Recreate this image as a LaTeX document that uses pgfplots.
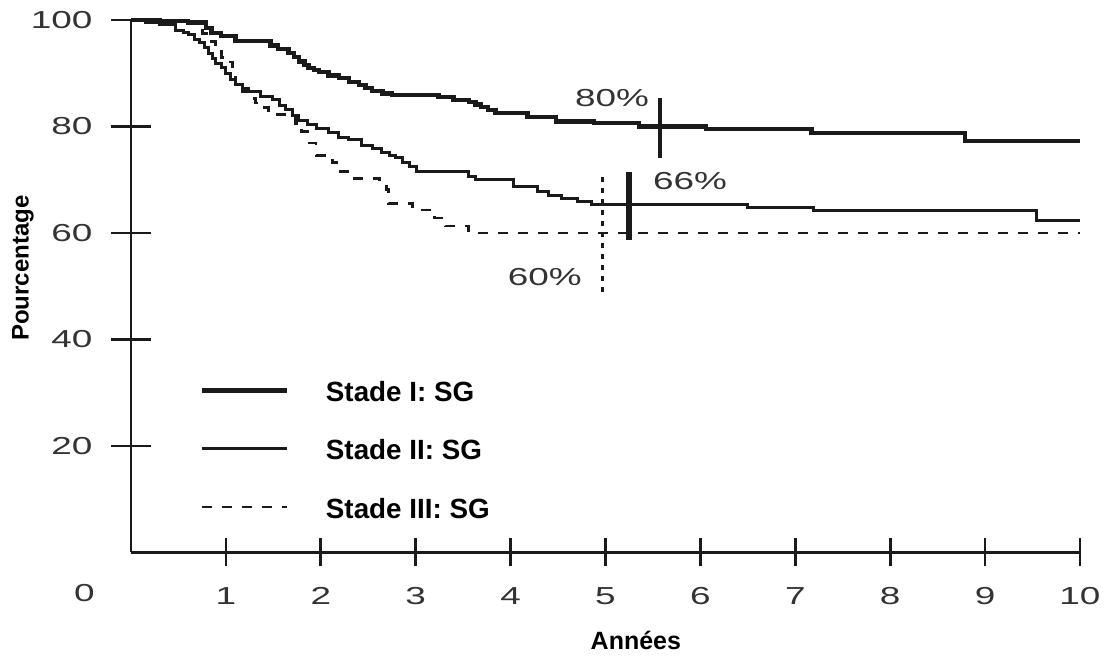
\documentclass[border=0pt]{standalone}
\usepackage{fontspec}
\setmainfont{Liberation Sans}
\usepackage{graphicx}
\usepackage{pgfplots}
\pgfplotsset{compat=1.18}
\definecolor{ink}{HTML}{1A1A1A}
\definecolor{gtext}{HTML}{333333}
\newcommand\gr[1]{\scalebox{1.5}[1]{#1}}
\begin{document}
\begin{tikzpicture}
\path[use as bounding box] (-65.5pt,-52.25pt) rectangle (489.5pt,276.25pt);
\begin{axis}[
  at={(0,0)}, anchor=south west,
  scale only axis, width=474.5pt, height=266.25pt,
  xmin=0, xmax=10, ymin=0, ymax=100,
  axis x line*=bottom, axis y line*=left,
  axis line style={ink, line width=1.3pt},
  clip=false,
  tick align=center,
  xtick={1,2,3,4,5,6,7,8,9,10},
  ytick={20,40,60,80,100},
  xticklabels={\gr{1},\gr{2},\gr{3},\gr{4},\gr{5},\gr{6},\gr{7},\gr{8},\gr{9},\gr{10}},
  yticklabels={\gr{20},\gr{40},\gr{60},\gr{80},\gr{100}},
  xtick style={ink, line width=1.3pt, /pgfplots/major tick length=14pt},
  ytick style={ink, line width=1.3pt, /pgfplots/major tick length=20pt},
  ticklabel style={font=\fontsize{12.3}{14}\selectfont, text=gtext, inner sep=0pt},
  xticklabel style={anchor=center, yshift=-19.5pt},
  yticklabel style={anchor=east, xshift=-17pt},
  xlabel={Années},
  ylabel={Pourcentage},
  xlabel style={font=\bfseries\fontsize{12.5}{14}\selectfont, at={(axis description cs:0.532,-0.166)}, anchor=center},
  ylabel style={font=\bfseries\fontsize{12}{14}\selectfont, at={(axis description cs:-0.114,0.534)}, anchor=center},
  legend style={at={(axis cs:0.655,33.0)}, anchor=north west, draw=none, fill=none,
    font=\bfseries\fontsize{13.9}{16}\selectfont, row sep=17.6pt, column sep=18.5pt,
    nodes={inner sep=0pt}},
  legend cell align=left,
  legend image code/.code={\draw[#1] (0pt,1.2pt) -- (42.5pt,1.2pt);},
]
% Stade I
\addplot[const plot, ink, line width=2.2pt] coordinates {
(0,100) (0.3,99.8) (0.6,99.5) (0.79,98.5) (0.85,97.6) (0.95,97.0) (1.1,96.0)
(1.47,95.2) (1.55,94.6) (1.66,93.8) (1.72,93.0) (1.77,92.2) (1.83,91.6) (1.87,91.0)
(1.93,90.6) (1.98,90.2) (2.08,89.6) (2.19,89.1) (2.3,88.4) (2.4,87.8) (2.47,87.2)
(2.54,86.7) (2.65,86.2) (2.75,85.9) (3.24,85.5) (3.4,85.0) (3.56,84.6) (3.63,84.1)
(3.69,83.7) (3.76,83.1) (3.84,82.5) (4.18,81.8) (4.48,80.9) (4.88,80.6) (5.35,80.0)
(6.06,79.5) (7.17,78.8) (8.79,77.3) (10,77.3)};
% Stade II
\addplot[const plot, ink, line width=1.5pt] coordinates {
(0,100) (0.15,99.6) (0.3,99.1) (0.47,98.1) (0.55,97.6) (0.61,97.2) (0.67,96.4)
(0.72,95.7) (0.77,94.8) (0.82,93.8) (0.86,92.8) (0.89,91.9) (0.95,91.0) (1.0,90.0)
(1.05,88.8) (1.1,87.8) (1.17,87.1) (1.24,86.5) (1.36,85.7) (1.49,85.0) (1.56,84.0)
(1.63,83.1) (1.7,82.1) (1.77,81.2) (1.86,80.4) (1.95,79.7) (2.08,78.8) (2.19,78.0)
(2.29,77.5) (2.43,76.5) (2.55,75.8) (2.64,75.2) (2.72,74.6) (2.79,74.1) (2.86,73.2)
(2.93,72.4) (3.01,71.5) (3.56,70.6) (3.63,70.0) (4.03,68.8) (4.28,67.8) (4.4,67.0)
(4.54,66.4) (4.7,65.9) (4.85,65.3) (6.5,64.8) (7.19,64.2) (9.54,62.3) (10,62.3)};
% Stade III
\addplot[const plot, ink, line width=1.4pt, dash pattern=on 5pt off 5pt] coordinates {
(0,100) (0.5,99.7) (0.72,99.3) (0.75,97.5) (0.82,96.0) (0.89,94.4) (0.95,93.0)
(1.0,92.1) (1.07,90.6) (1.1,87.5) (1.17,86.5) (1.24,85.3) (1.31,84.4) (1.38,83.5)
(1.45,82.2) (1.73,80.6) (1.8,79.0) (1.86,76.9) (1.95,74.6) (2.12,73.2) (2.19,71.5)
(2.31,70.3) (2.62,69.6) (2.69,68.2) (2.71,65.6) (2.97,64.3) (3.2,62.8) (3.31,61.3)
(3.56,60.0) (10,60.0)};
\legend{Stade I: SG, Stade II: SG, Stade III: SG}
% markers at 5 years
\addplot[ink, line width=2pt, forget plot] coordinates {(5.57,74) (5.57,85.3)};
\addplot[ink, line width=3pt, forget plot] coordinates {(5.25,58.7) (5.25,71.5)};
\addplot[ink, line width=1.3pt, dash pattern=on 2.5pt off 3pt, forget plot] coordinates {(4.97,49) (4.97,70.8)};
\node[text=gtext, font=\fontsize{12.3}{14}\selectfont, inner sep=0pt] at (axis cs:5.07,85.4) {\gr{80\%}};
\node[text=gtext, font=\fontsize{12.3}{14}\selectfont, inner sep=0pt] at (axis cs:5.89,69.8) {\gr{66\%}};
\node[text=gtext, font=\fontsize{12.3}{14}\selectfont, inner sep=0pt] at (axis cs:4.36,51.7) {\gr{60\%}};
\node[text=gtext, font=\fontsize{12.3}{14}\selectfont, inner sep=0pt] at (axis cs:-0.49,-7.55) {\gr{0}};
\end{axis}
\end{tikzpicture}
\end{document}
